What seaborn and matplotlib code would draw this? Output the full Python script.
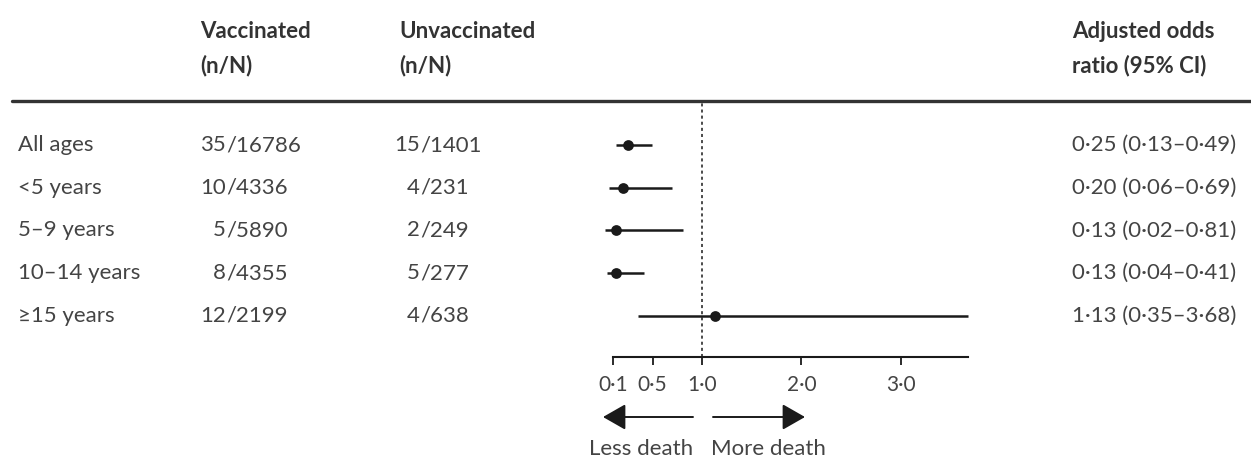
import seaborn as sns
import pandas as pd
import matplotlib.pyplot as plt
from matplotlib import transforms
from matplotlib.lines import Line2D

# Data
groups = ["All ages", "<5 years", "5–9 years", "10–14 years", "≥15 years"]
vacc_n = [35, 10, 5, 8, 12]
vacc_N = [16786, 4336, 5890, 4355, 2199]
unvacc_n = [15, 4, 2, 5, 4]
unvacc_N = [1401, 231, 249, 277, 638]
odds = [0.25, 0.20, 0.13, 0.13, 1.13]
ci_low = [0.13, 0.06, 0.02, 0.04, 0.35]
ci_high = [0.49, 0.69, 0.81, 0.41, 3.68]
xticks = [0.1, 0.5, 1.0, 2.0, 3.0]

df = pd.DataFrame({"group": groups, "odds": odds, "lo": ci_low, "hi": ci_high})
df["row"] = range(len(df))


def dot(v, fmt):
    return format(v, fmt).replace(".", "·")


W, H = 1251, 461
FS = 16
TXT = "#444444"
DARK = "#1a1a1a"

sns.set_theme(style="white")
plt.rcParams["font.family"] = ["Lato", "DejaVu Sans"]

fig = plt.figure(figsize=(W / 100, H / 100), dpi=100)


def fx(px):
    return px / W


def fy(py):
    return 1 - py / H


# forest plot axes: x from 0.1 to 3.68, rows 0..4
row_top, row_step = 145, 42.75
ax_top, ax_bot = 101, 357
ax = fig.add_axes([fx(613), fy(ax_bot), (968 - 613) / W, (ax_bot - ax_top) / H])
ax.set_xlim(0.1, 3.68)
ax.set_ylim((ax_bot - row_top) / row_step, (ax_top - row_top) / row_step)
ax.patch.set_alpha(0)

ax.hlines(df["row"], df["lo"], df["hi"], color=DARK, lw=1.8, clip_on=False)
sns.scatterplot(data=df, x="odds", y="row", ax=ax, color=DARK, s=60,
                edgecolor=DARK, linewidth=0, zorder=3, clip_on=False)
ax.axvline(1.0, color=DARK, lw=1.1, linestyle=(0, (2, 2)))

for s in ["left", "top", "right"]:
    ax.spines[s].set_visible(False)
ax.spines["bottom"].set_color(DARK)
ax.spines["bottom"].set_linewidth(1.5)
ax.set_xticks(xticks)
ax.set_xticklabels([dot(t, ".1f") for t in xticks], fontsize=FS - 1, color=TXT)
ax.tick_params(axis="x", direction="out", length=6, width=1.3, color=DARK, pad=7, bottom=True)
ax.set_yticks([])
ax.set_xlabel("")
ax.set_ylabel("")
ax.grid(False)

# table text
trans = transforms.blended_transform_factory(fig.transFigure, ax.transData)
for _, r in df.iterrows():
    i = r["row"]
    ax.text(fx(18), i, r["group"], transform=trans, ha="left", va="center", fontsize=FS, color=TXT)
    ax.text(fx(226), i, str(vacc_n[i]), transform=trans, ha="right", va="center", fontsize=FS, color=TXT)
    ax.text(fx(226), i, "/" + str(vacc_N[i]), transform=trans, ha="left", va="center", fontsize=FS, color=TXT)
    ax.text(fx(420), i, str(unvacc_n[i]), transform=trans, ha="right", va="center", fontsize=FS, color=TXT)
    ax.text(fx(420), i, "/" + str(unvacc_N[i]), transform=trans, ha="left", va="center", fontsize=FS, color=TXT)
    label = f"{dot(r['odds'], '.2f')} ({dot(r['lo'], '.2f')}–{dot(r['hi'], '.2f')})"
    ax.text(fx(1072), i, label, transform=trans, ha="left", va="center", fontsize=FS, color=TXT)

# headers
headers = [(200, ["Vaccinated", "(n/N)"]),
           (399, ["Unvaccinated", "(n/N)"]),
           (1072, ["Adjusted odds", "ratio (95% CI)"])]
for x, lines in headers:
    for y, t in zip([31, 66], lines):
        fig.text(fx(x), fy(y), t, ha="left", va="center", fontsize=FS, color="#333333", fontweight="bold")

fig.add_artist(Line2D([fx(12), 1], [fy(101), fy(101)], lw=2.4, color="#333333"))

# direction arrows
arrow = dict(arrowstyle="-|>,head_length=0.7,head_width=0.4", lw=1.4, color=DARK,
             mutation_scale=20, shrinkA=0, shrinkB=0)
fig.add_artist(plt.Annotation("", xy=(fx(603), fy(417)), xytext=(fx(693), fy(417)),
                              xycoords="figure fraction", arrowprops=arrow))
fig.add_artist(plt.Annotation("", xy=(fx(805), fy(417)), xytext=(fx(713), fy(417)),
                              xycoords="figure fraction", arrowprops=arrow))
fig.text(fx(641), fy(449), "Less death", ha="center", va="center", fontsize=FS, color=TXT)
fig.text(fx(768), fy(449), "More death", ha="center", va="center", fontsize=FS, color=TXT)

fig.savefig("out.png", dpi=100, facecolor="white")
